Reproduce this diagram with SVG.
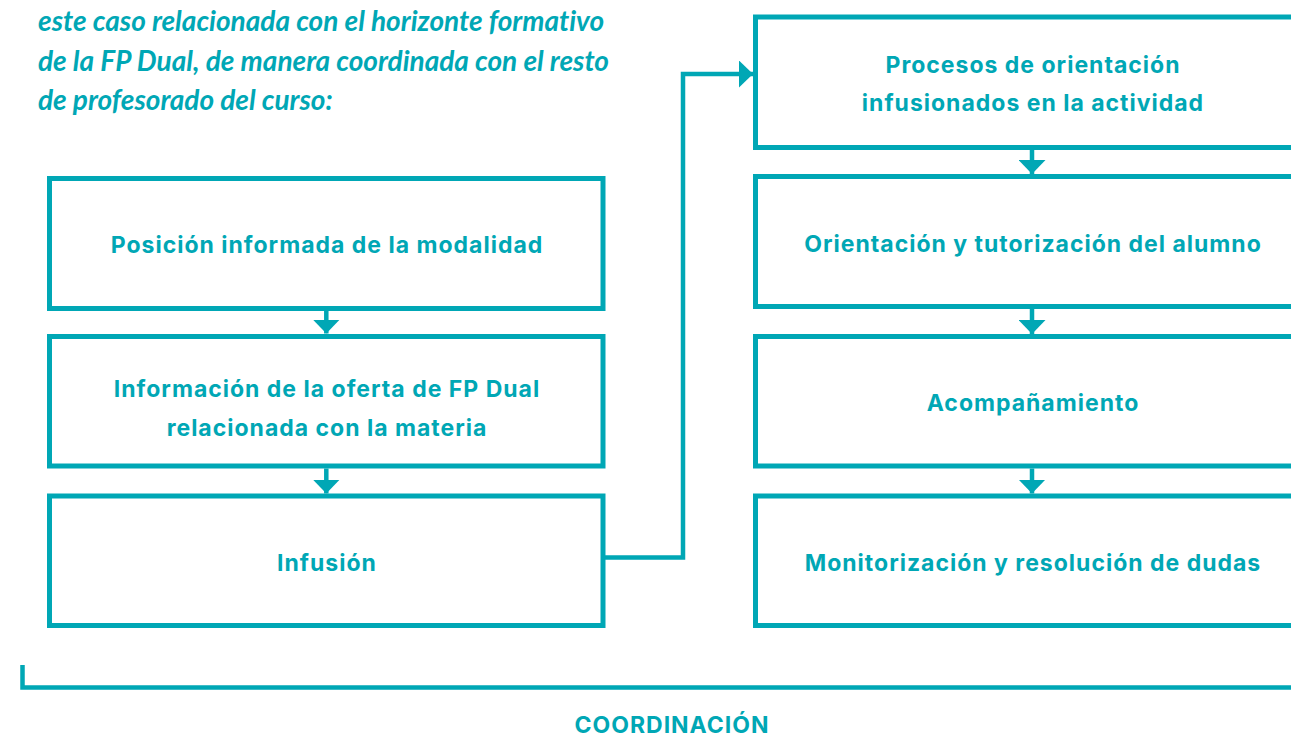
<svg xmlns="http://www.w3.org/2000/svg" width="1291" height="738" viewBox="0 0 1291 738">
<style>
.box{fill:#fff;stroke:#00A7B5;stroke-width:5}
.con{fill:none;stroke:#00A7B5;stroke-width:4.5}
.lbl{font-family:Inter,"Liberation Sans",sans-serif;font-weight:700;font-size:23px;letter-spacing:1px;fill:#00A7B5;text-anchor:middle}
.intro{font-family:Lato,"Liberation Sans",sans-serif;font-weight:700;font-style:italic;font-size:28px;fill:#00A7B5;font-variant-ligatures:none}
</style>
<defs>
<marker id="ah" markerUnits="userSpaceOnUse" markerWidth="14" markerHeight="27" refX="14" refY="13.5" orient="auto" viewBox="0 0 14 27">
<path d="M0,0 L14,13.5 L0,27 Z" fill="#00A7B5"/>
</marker>
</defs>
<rect width="1291" height="738" fill="#fff"/>
<g id="intro">
<text class="intro" x="38" y="31">este caso relacionada con el horizonte formativo</text>
<text class="intro" x="38" y="71">de la FP Dual, de manera coordinada con el resto</text>
<text class="intro" x="38" y="110">de profesorado del curso:</text>
</g>
<g id="connectors">
<path class="con" d="M326.3,311 V333.5" marker-end="url(#ah)"/>
<path class="con" d="M326.3,468.5 V493.5" marker-end="url(#ah)"/>
<path class="con" d="M605,557.5 H683 V74 H753" marker-end="url(#ah)"/>
<path class="con" d="M1032,150 V174" marker-end="url(#ah)"/>
<path class="con" d="M1032,309 V334" marker-end="url(#ah)"/>
<path class="con" d="M1032,468.5 V493.5" marker-end="url(#ah)"/>
<path class="con" d="M22.5,665 V687.5 H1300"/>
</g>
<g id="n-posicion">
<rect class="box" x="49.5" y="178.5" width="553.5" height="130"/>
<text class="lbl" x="327" y="253">Posición informada de la modalidad</text>
</g>
<g id="n-informacion">
<rect class="box" x="49.5" y="336.5" width="553.5" height="129.5"/>
<text class="lbl" x="327" y="397">Información de la oferta de FP Dual</text>
<text class="lbl" x="327" y="436">relacionada con la materia</text>
</g>
<g id="n-infusion">
<rect class="box" x="49.5" y="496" width="553.5" height="129.5"/>
<text class="lbl" x="327" y="571">Infusión</text>
</g>
<g id="n-procesos">
<rect class="box" x="755.5" y="17" width="560" height="130.5"/>
<text class="lbl" x="1033" y="73">Procesos de orientación</text>
<text class="lbl" x="1033" y="111">infusionados en la actividad</text>
</g>
<g id="n-orientacion">
<rect class="box" x="755.5" y="176.5" width="560" height="130"/>
<text class="lbl" x="1033" y="252">Orientación y tutorización del alumno</text>
</g>
<g id="n-acompanamiento">
<rect class="box" x="755.5" y="336.5" width="560" height="129.5"/>
<text class="lbl" x="1033" y="411">Acompañamiento</text>
</g>
<g id="n-monitorizacion">
<rect class="box" x="755.5" y="496" width="560" height="129.5"/>
<text class="lbl" x="1033" y="571">Monitorización y resolución de dudas</text>
</g>
<g id="coordinacion">
<text class="lbl" x="672" y="733">COORDINACIÓN</text>
</g>
</svg>
